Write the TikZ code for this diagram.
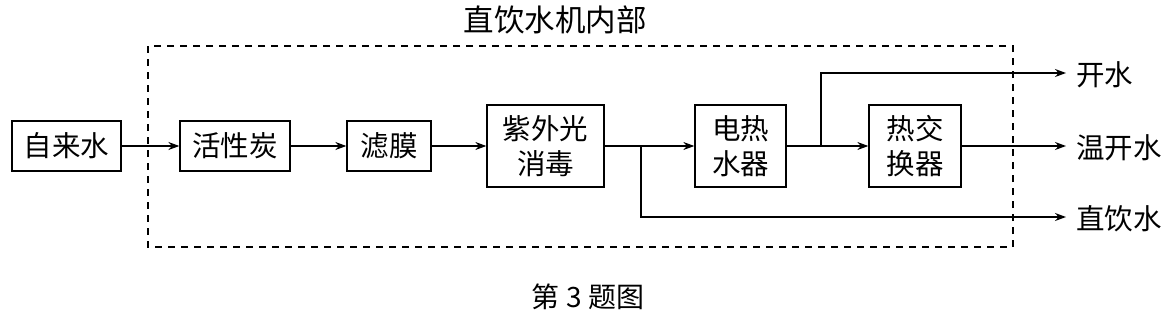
\documentclass[tikz,border=0pt]{standalone}
\usepackage{fontspec}
\setmainfont{Noto Sans CJK SC}
\usetikzlibrary{arrows.meta}
\begin{document}
\begin{tikzpicture}[x=1pt,y=-1pt,
  box/.style={draw,line width=1.3pt,inner sep=0pt,align=center,font=\fontsize{28.5}{35}\selectfont},
  lab/.style={inner sep=0pt,anchor=west,font=\fontsize{28.5}{30}\selectfont},
  flow/.style={line width=1.3pt,-{Stealth[length=11pt,width=8pt]}}]
\useasboundingbox (0,0) rectangle (1175,319);
\draw[line width=1.2pt,dash pattern=on 7pt off 6pt] (148,46) rectangle (1013,247);
\node[font=\fontsize{30.5}{32}\selectfont] (title) at (555,20) {直饮水机内部};
\node[font=\fontsize{28}{30}\selectfont] (cap) at (588,297) {第 3 题图};
\node[box,minimum width=109pt,minimum height=50pt] (a) at (66.5,146) {自来水};
\node[box,minimum width=110pt,minimum height=50pt] (b) at (235,146) {活性炭};
\node[box,minimum width=84pt,minimum height=50pt] (c) at (389,146) {滤膜};
\node[box,minimum width=117pt,minimum height=82pt] (d) at (545.5,146) {紫外光\\消毒};
\node[box,minimum width=91pt,minimum height=82pt] (e) at (740.5,146) {电热\\水器};
\node[box,minimum width=92pt,minimum height=82pt] (f) at (915,146) {热交\\换器};
\coordinate (j1) at (641,146);
\coordinate (j2) at (821,146);
\coordinate (o1) at (1066,73);
\coordinate (o2) at (1066,146);
\coordinate (o3) at (1066,217);
\node[lab] (l1) at (1076,75) {开水};
\node[lab] (l2) at (1076,148) {温开水};
\node[lab] (l3) at (1076,219) {直饮水};
\draw[flow] (a) -- (b);
\draw[flow] (b) -- (c);
\draw[flow] (c) -- (d);
\draw[flow] (d) -- (e);
\draw[flow] (j1) |- (o3);
\draw[flow] (e) -- (f);
\draw[flow] (j2) |- (o1);
\draw[flow] (f) -- (o2);
\end{tikzpicture}
\end{document}
